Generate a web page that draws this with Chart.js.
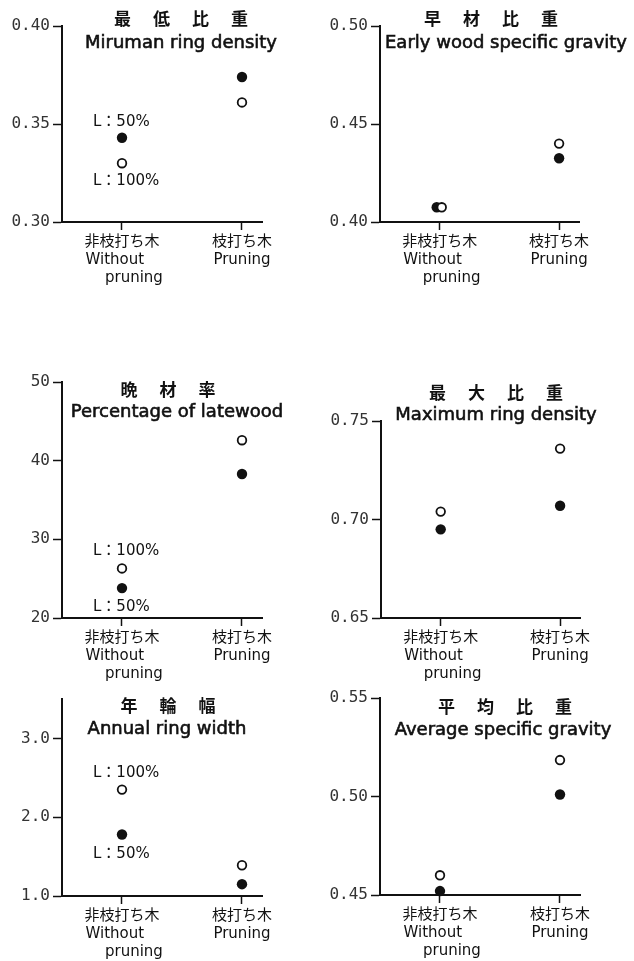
<!DOCTYPE html>
<html>
<head>
<meta charset="utf-8">
<script src="https://cdn.jsdelivr.net/npm/chart.js@4.4.1/dist/chart.umd.min.js"></script>
<style>
  body { margin: 0; background: #fff; }
  #wrap { position: relative; width: 634px; height: 961px; overflow: hidden; }
  canvas { position: absolute; }
</style>
</head>
<body>
<div id="wrap">
  <canvas id="c1"></canvas>
  <canvas id="c2"></canvas>
  <canvas id="c3"></canvas>
  <canvas id="c4"></canvas>
  <canvas id="c5"></canvas>
  <canvas id="c6"></canvas>
</div>
<script>
// categories and series
const groups = [['非枝打ち木', 'Without   ', '     pruning'], ['枝打ち木', 'Pruning']];
const seriesNames = ['L：50%', 'L：100%'];

const titlesJa = ['最低比重', '早材比重', '晩材率', '最大比重', '年輪幅', '平均比重'];
const titlesEn = ['Miruman ring density', 'Early wood specific gravity', 'Percentage of latewood',
                  'Maximum ring density', 'Annual ring width', 'Average specific gravity'];

// L:50% = filled, L:100% = open
const minDensity50 = [0.343, 0.374];
const minDensity100 = [0.330, 0.361];
const early50 = [0.4075, 0.4325];
const early100 = [0.4075, 0.440];
const latewood50 = [23.8, 38.3];
const latewood100 = [26.3, 42.6];
const maxDensity50 = [0.695, 0.707];
const maxDensity100 = [0.704, 0.736];
const ringWidth50 = [1.78, 1.15];
const ringWidth100 = [2.35, 1.39];
const avgGravity50 = [0.452, 0.501];
const avgGravity100 = [0.460, 0.5185];

// tick labels
const ticksMin = [0.30, 0.35, 0.40];
const ticksEarly = [0.40, 0.45, 0.50];
const ticksLate = [20, 30, 40, 50];
const ticksMax = [0.65, 0.70, 0.75];
const ticksWidth = [1.0, 2.0, 3.0];
const ticksAvg = [0.45, 0.50, 0.55];

const panels = [
  { id: 'c1', left: 0, top: 0, w: 317, h: 310, padTop: 26, padRight: 55, yW: 62, xH: 88,
    yMin: 0.30, yMax: 0.40, yTicks: ticksMin, dec: 2, s50: minDensity50, s100: minDensity100,
    ja: titlesJa[0], en: titlesEn[0], jaX: 181, jaY: 19, enX: 181, enY: 43,
    notes: [{ ds: 1, dy: -16 }, { ds: 0, dy: 18 }] },
  { id: 'c2', left: 317, top: 0, w: 317, h: 310, padTop: 26, padRight: 55, yW: 63, xH: 88,
    yMin: 0.40, yMax: 0.50, yTicks: ticksEarly, dec: 2, s50: early50, s100: early100,
    ja: titlesJa[1], en: titlesEn[1], jaX: 491, jaY: 19, enX: 506, enY: 43,
    shift50: -0.025, shift100: 0.017 },
  { id: 'c3', left: 0, top: 320, w: 317, h: 370, padTop: 62, padRight: 55, yW: 62, xH: 72,
    yMin: 20, yMax: 50, yTicks: ticksLate, dec: 0, s50: latewood50, s100: latewood100,
    ja: titlesJa[2], en: titlesEn[2], jaX: 168, jaY: 390, enX: 177, enY: 412,
    notes: [{ ds: 0, dy: -17 }, { ds: 1, dy: 19 }] },
  { id: 'c4', left: 317, top: 320, w: 317, h: 370, padTop: 101, padRight: 54, yW: 64, xH: 72,
    yMin: 0.65, yMax: 0.75, yTicks: ticksMax, dec: 2, s50: maxDensity50, s100: maxDensity100,
    ja: titlesJa[3], en: titlesEn[3], jaX: 496, jaY: 393, enX: 496, enY: 415 },
  { id: 'c5', left: 0, top: 670, w: 317, h: 291, padTop: 29, padRight: 55, yW: 62, xH: 65,
    yMin: 1.0, yMax: 3.5, yTicks: ticksWidth, dec: 1, s50: ringWidth50, s100: ringWidth100,
    ja: titlesJa[4], en: titlesEn[4], jaX: 168, jaY: 706, enX: 167, enY: 729,
    notes: [{ ds: 0, dy: -17 }, { ds: 1, dy: 20 }] },
  { id: 'c6', left: 317, top: 670, w: 317, h: 291, padTop: 28, padRight: 54, yW: 63, xH: 66,
    yMin: 0.45, yMax: 0.55, yTicks: ticksAvg, dec: 2, s50: avgGravity50, s100: avgGravity100,
    ja: titlesJa[5], en: titlesEn[5], jaX: 505, jaY: 707, enX: 503, enY: 730 }
];

const ink = '#111';

// titles inside the plot + L: labels beside the first group
const panelText = {
  id: 'panelText',
  afterDraw(chart) {
    const p = chart.options.plugins.panelText;
    const ctx = chart.ctx;
    ctx.save();
    ctx.fillStyle = ink;
    ctx.strokeStyle = ink;
    ctx.textBaseline = 'middle';
    ctx.textAlign = 'center';
    ctx.font = 'bold 17px "Noto Sans CJK JP"';
    const chars = [...p.ja];
    chars.forEach((c, i) => {
      ctx.fillText(c, p.jaX - p.left + (i - (chars.length - 1) / 2) * 39, p.jaY - p.top);
    });
    // medium weight: regular face with a thin outline
    ctx.font = '18px "DejaVu Sans"';
    ctx.lineWidth = 0.6;
    ctx.fillText(p.en, p.enX - p.left, p.enY - p.top);
    ctx.strokeText(p.en, p.enX - p.left, p.enY - p.top);
    if (p.notes) {
      ctx.font = '15px "DejaVu Sans", "Noto Sans CJK JP"';
      ctx.textAlign = 'left';
      p.notes.forEach(n => {
        const pt = chart.getDatasetMeta(n.ds).data[0];
        ctx.fillText(chart.data.datasets[n.ds].label, pt.x - 29, pt.y + n.dy);
      });
    }
    ctx.restore();
  }
};

panels.forEach(p => {
  const cv = document.getElementById(p.id);
  cv.width = p.w; cv.height = p.h;
  cv.style.left = p.left + 'px'; cv.style.top = p.top + 'px';

  new Chart(cv, {
    type: 'scatter',
    data: {
      datasets: [{
        label: seriesNames[1],
        data: p.s100.map((v, i) => ({ x: i + (i === 0 ? (p.shift100 || 0) : 0), y: v })),
        pointRadius: 4.3,
        pointBackgroundColor: '#fff',
        pointBorderColor: ink,
        pointBorderWidth: 1.8,
        clip: false
      }, {
        label: seriesNames[0],
        data: p.s50.map((v, i) => ({ x: i + (i === 0 ? (p.shift50 || 0) : 0), y: v })),
        pointRadius: 5.2,
        pointBackgroundColor: ink,
        pointBorderColor: ink,
        pointBorderWidth: 0,
        clip: false
      }]
    },
    options: {
      responsive: false,
      animation: false,
      events: [],
      layout: { padding: { top: p.padTop, right: p.padRight, left: 0, bottom: 0 } },
      plugins: {
        legend: { display: false },
        tooltip: { enabled: false },
        panelText: p
      },
      scales: {
        x: {
          type: 'linear',
          min: -0.5,
          max: 1.1667,
          afterFit: s => { s.height = p.xH; },
          afterBuildTicks: s => { s.ticks = [{ value: 0 }, { value: 1 }]; },
          border: { display: true, color: ink, width: 2 },
          grid: { drawOnChartArea: false, drawTicks: true, tickLength: 8, tickColor: ink, tickWidth: 1.5 },
          ticks: {
            autoSkip: false,
            maxRotation: 0,
            padding: 3,
            color: ink,
            font: { family: '"DejaVu Sans", "Noto Sans CJK JP"', size: 15, lineHeight: 1.2 },
            callback: v => groups[Math.round(v)]
          }
        },
        y: {
          min: p.yMin,
          max: p.yMax,
          afterFit: s => { s.width = p.yW; },
          afterBuildTicks: s => { s.ticks = p.yTicks.map(v => ({ value: v })); },
          border: { display: true, color: ink, width: 2 },
          grid: { drawOnChartArea: false, drawTicks: true, tickLength: 9, tickColor: ink, tickWidth: 1.5 },
          ticks: {
            padding: 3,
            color: '#333',
            font: { family: '"DejaVu Sans Mono"', size: 16 },
            callback: v => v.toFixed(p.dec)
          }
        }
      }
    },
    plugins: [panelText]
  });
});
</script>
</body>
</html>
